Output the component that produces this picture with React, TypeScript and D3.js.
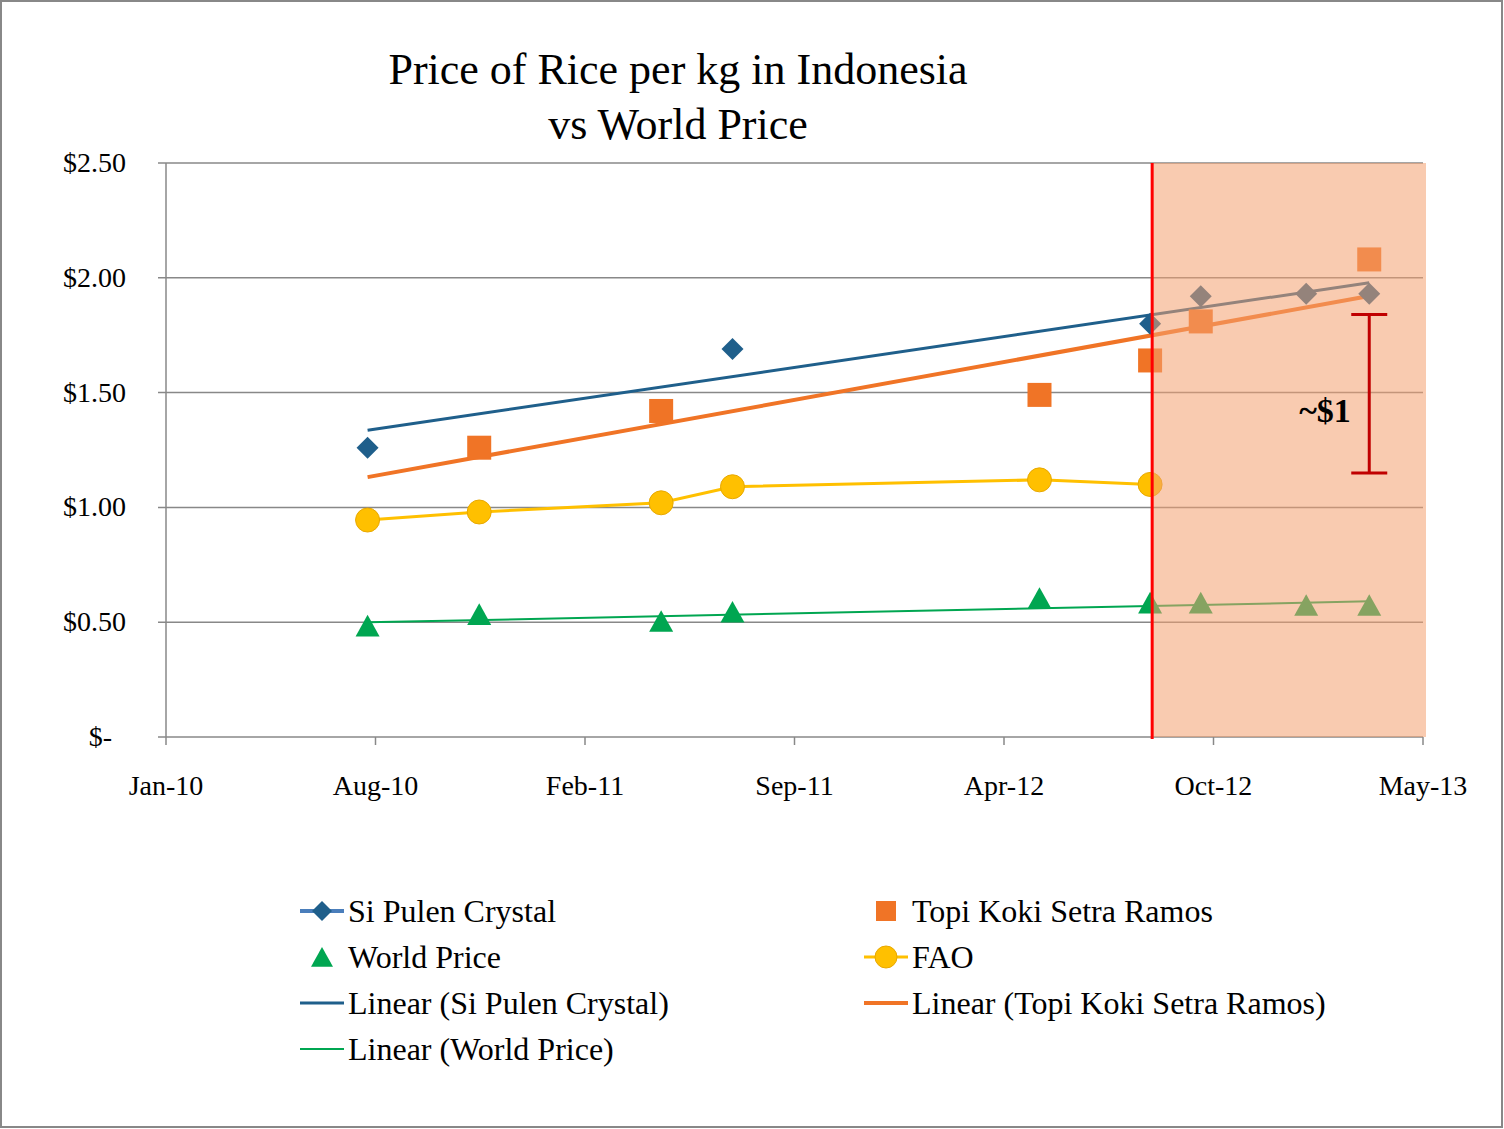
import * as d3 from "d3";

const W = 1504;
const H = 1129;
const M = { left: 166, right: 1423, top: 163, bottom: 737 };

const xStart = "2010-01-01";
const xEnd = "2013-05-01";
const xTickLabels = ["Jan-10", "Aug-10", "Feb-11", "Sep-11", "Apr-12", "Oct-12", "May-13"];
const yTicks = [0, 0.5, 1, 1.5, 2, 2.5];

const siDates = ["2010-07-15", "2011-07-03", "2012-08-10", "2012-09-28", "2013-01-08", "2013-03-10"];
const siValues = [1.26, 1.69, 1.8, 1.92, 1.93, 1.93];
const topiDates = ["2010-10-31", "2011-04-25", "2012-04-25", "2012-08-10", "2012-09-28", "2013-03-10"];
const topiValues = [1.26, 1.42, 1.49, 1.64, 1.81, 2.08];
const faoDates = ["2010-07-15", "2010-10-31", "2011-04-25", "2011-07-03", "2012-04-25", "2012-08-10"];
const faoValues = [0.945, 0.98, 1.02, 1.09, 1.12, 1.1];
const worldDates = ["2010-07-15", "2010-10-31", "2011-04-25", "2011-07-03", "2012-04-25", "2012-08-10", "2012-09-28", "2013-01-08", "2013-03-10"];
const worldValues = [0.48, 0.53, 0.5, 0.54, 0.6, 0.58, 0.58, 0.57, 0.57];

const shadeStart = "2012-08-12";
const bracket = { date: "2013-03-10", low: 1.15, high: 1.84 };

const pd = (s: string) => new Date(s + "T00:00:00");
const x = d3.scaleTime().domain([pd(xStart), pd(xEnd)]).range([M.left, M.right]);
const y = d3.scaleLinear().domain([0, 2.5]).range([M.bottom, M.top]);
// evenly spaced major units, as the axis shows them
const xTicks = xTickLabels.map((_, i) => new Date(+pd(xStart) + (i * (+pd(xEnd) - +pd(xStart))) / 6));

const trend = (dates: string[], vals: number[]) => {
  const xs = dates.map((d) => x(pd(d)));
  const mx = d3.mean(xs)!, my = d3.mean(vals)!;
  const b = d3.sum(xs, (v, i) => (v - mx) * (vals[i] - my)) / d3.sum(xs, (v) => (v - mx) ** 2);
  const a = my - b * mx;
  const x0 = x(pd(worldDates[0])), x1 = x(pd(worldDates[worldDates.length - 1]));
  return { x1: x0, y1: y(a + b * x0), x2: x1, y2: y(a + b * x1) };
};

const font = "'Liberation Serif', serif";
const diamond = (cx: number, cy: number, r = 11) => `M${cx},${cy - r}L${cx + r},${cy}L${cx},${cy + r}L${cx - r},${cy}Z`;
const tri = (cx: number, cy: number, r = 12) => `M${cx},${cy - r}L${cx + r},${cy + r * 0.8}L${cx - r},${cy + r * 0.8}Z`;

export default function App() {
  const tSi = trend(siDates, siValues);
  const tTopi = trend(topiDates, topiValues);
  const tWorld = trend(worldDates, worldValues);
  const faoLine = d3.line<number>().x((_, i) => x(pd(faoDates[i]))).y((v) => y(v))(faoValues)!;
  const sx = x(pd(shadeStart));
  const bx = x(pd(bracket.date));

  return (
    <svg width={W} height={H} style={{ position: "absolute", left: 0, top: 0, fontFamily: font }}>
      <rect x={1} y={1} width={W - 3} height={H - 3} fill="white" stroke="#888" strokeWidth={2} />
      <text x={678} y={84} textAnchor="middle" fontSize={44}>Price of  Rice per kg in Indonesia</text>
      <text x={678} y={139} textAnchor="middle" fontSize={44}>vs World Price</text>

      {yTicks.map((t) => (
        <g key={t}>
          <line x1={158} x2={M.right} y1={y(t)} y2={y(t)} stroke="#888" strokeWidth={1.5} />
          <text x={t === 0 ? 112 : 126} y={y(t) + 9} textAnchor="end" fontSize={28}>
            {t === 0 ? "$-" : "$" + t.toFixed(2)}
          </text>
        </g>
      ))}
      <line x1={M.left} x2={M.left} y1={M.top} y2={M.bottom} stroke="#888" strokeWidth={1.5} />
      {xTicks.map((t, i) => (
        <g key={i}>
          <line x1={x(t)} x2={x(t)} y1={M.bottom} y2={M.bottom + 8} stroke="#888" strokeWidth={1.5} />
          <text x={x(t)} y={795} textAnchor="middle" fontSize={28}>{xTickLabels[i]}</text>
        </g>
      ))}

      <line {...tSi} stroke="#1F5F8B" strokeWidth={3} />
      <line {...tTopi} stroke="#F07426" strokeWidth={4} />
      <line {...tWorld} stroke="#00A651" strokeWidth={2} />
      <path d={faoLine} fill="none" stroke="#FFC000" strokeWidth={3} />

      {siValues.map((v, i) => <path key={i} d={diamond(x(pd(siDates[i])), y(v))} fill="#1F5F8B" />)}
      {topiValues.map((v, i) => (
        <rect key={i} x={x(pd(topiDates[i])) - 12} y={y(v) - 12} width={24} height={24} fill="#F07426" />
      ))}
      {faoValues.map((v, i) => (
        <circle key={i} cx={x(pd(faoDates[i]))} cy={y(v)} r={12} fill="#FFC000" stroke="#E8A800" />
      ))}
      {worldValues.map((v, i) => <path key={i} d={tri(x(pd(worldDates[i])), y(v))} fill="#00A651" />)}

      <rect x={sx} y={M.top} width={1426 - sx} height={M.bottom - M.top} fill="#F4A070" opacity={0.55} />
      <line x1={sx} x2={sx} y1={M.top} y2={M.bottom + 2} stroke="#F00" strokeWidth={3} />

      <g stroke="#C00000" strokeWidth={3}>
        <line x1={bx} x2={bx} y1={y(bracket.high)} y2={y(bracket.low)} />
        <line x1={bx - 18} x2={bx + 18} y1={y(bracket.high)} y2={y(bracket.high)} />
        <line x1={bx - 18} x2={bx + 18} y1={y(bracket.low)} y2={y(bracket.low)} />
      </g>
      <text x={1325} y={422} textAnchor="middle" fontSize={34} fontWeight="bold">~$1</text>

      <g fontSize={32}>
        <line x1={300} x2={344} y1={911} y2={911} stroke="#4A7EBB" strokeWidth={4} />
        <path d={diamond(322, 911, 10)} fill="#1F5F8B" />
        <text x={348} y={922}>Si Pulen Crystal</text>
        <rect x={876} y={901} width={20} height={20} fill="#F07426" />
        <text x={912} y={922}>Topi Koki Setra Ramos</text>
        <path d={tri(322, 958, 11)} fill="#00A651" />
        <text x={348} y={968}>World Price</text>
        <line x1={864} x2={908} y1={957} y2={957} stroke="#FFC000" strokeWidth={3} />
        <circle cx={886} cy={957} r={11} fill="#FFC000" stroke="#E8A800" />
        <text x={912} y={968}>FAO</text>
        <line x1={300} x2={344} y1={1003} y2={1003} stroke="#1F5F8B" strokeWidth={3} />
        <text x={348} y={1014}>Linear (Si Pulen Crystal)</text>
        <line x1={864} x2={908} y1={1003} y2={1003} stroke="#F07426" strokeWidth={4} />
        <text x={912} y={1014}>Linear (Topi Koki Setra Ramos)</text>
        <line x1={300} x2={344} y1={1049} y2={1049} stroke="#00A651" strokeWidth={2} />
        <text x={348} y={1060}>Linear (World Price)</text>
      </g>
    </svg>
  );
}
